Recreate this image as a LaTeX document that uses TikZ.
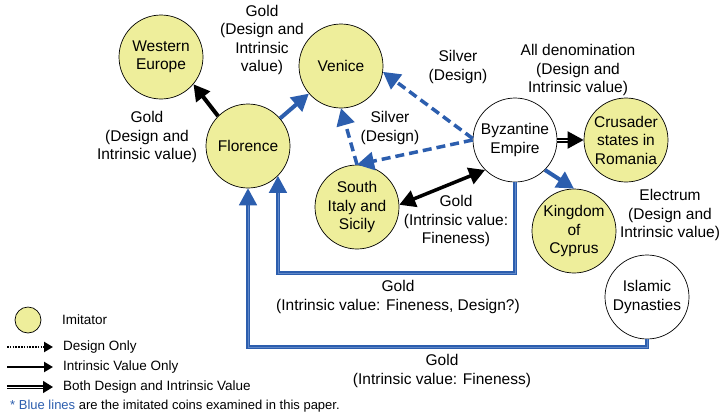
\documentclass[tikz,border=0pt]{standalone}
\usepackage{fontspec}
\setmainfont{Liberation Sans}
\usetikzlibrary{arrows.meta,calc}
\definecolor{cblue}{RGB}{44,94,174}
\definecolor{cblueL}{RGB}{95,135,200}
\definecolor{cyel}{RGB}{238,238,155}
\begin{document}
\begin{tikzpicture}[x=1pt,y=-1pt,
  circ/.style={circle,draw=black,line width=0.7pt,minimum size=84pt,inner sep=0pt,align=center,
    font=\fontsize{15.5}{18.5}\selectfont},
  imit/.style={circ,fill=cyel},
  lbl/.style={align=center,inner sep=0pt,font=\fontsize{15.5}{18.5}\selectfont},
  lgd/.style={anchor=west,inner sep=0pt,font=\fontsize{13.5}{16}\selectfont},
  btip/.style={-{Triangle[length=17pt,width=18pt]}},
  blueA/.style={draw=cblue,line width=4pt,btip},
  blueP/.style={draw=cblue,line width=1.8pt,double=cblueL,double distance=0.6pt,btip},
  blueD/.style={draw=cblue,line width=3.5pt,dash pattern=on 9pt off 5pt,btip},
  blkA/.style={draw=black,line width=4pt,-{Triangle[length=16pt,width=17pt]}},
  blkB/.style={draw=black,line width=3.5pt,{Triangle[length=16pt,width=17pt]}-{Triangle[length=16pt,width=17pt]}},
  blkDbl/.style={draw=black,line width=2pt,double=white,double distance=1pt,-{Triangle[length=16pt,width=17pt]}},
]
\useasboundingbox (0,0) rectangle (725,418);

% circles
\node[imit] (WE) at (161,57) {Western\\Europe};
\node[imit] (V) at (341,66) {Venice};
\node[imit] (F) at (248,146) {Florence};
\node[circ,fill=white] (B) at (515,140) {Byzantine\\Empire};
\node[imit] (C) at (626,140) {Crusader\\states in\\Romania};
\node[imit] (S) at (357,207) {South\\Italy and\\Sicily};
\node[imit] (K) at (574,231) {Kingdom\\of\\Cyprus};
\node[circ,fill=white] (I) at (647,297) {Islamic\\Dynasties};

% labels
\node[lbl] (t1) at (147,137) {Gold\\(Design and\\Intrinsic value)};
\node[lbl] (t2) at (262,40) {Gold\\(Design and\\Intrinsic\\value)};
\node[lbl] (t3) at (458,67) {Silver\\(Design)};
\node[lbl] (t4) at (578,70) {All denomination\\(Design and\\Intrinsic value)};
\node[lbl] (t5) at (390,128) {Silver\\(Design)};
\node[lbl] (t6) at (456,221) {Gold\\(Intrinsic value:\\Fineness)};
\node[lbl] (t7) at (670,215) {Electrum\\(Design and\\Intrinsic value)};
\node[lbl] (t8) at (398,297) {Gold\\(Intrinsic value: Fineness, Design?)};
\node[lbl] (t9) at (442,371) {Gold\\(Intrinsic value: Fineness)};

% connectors
\draw[blkA] (F.135) -- (WE.-40);
\draw[blueA] (F) -- (V);
\draw[blueD] (B.178) -- (V.-8);
\draw[blueD] (B.180) -- (S.north);
\draw[blueD] (S.north) -- (V.south);
\draw[blkB] (S.3) -- (B.225);
\draw[blkDbl] (B.east) -- (C.west);
\draw[blueA] (B.-45) -- (K.north);
\coordinate (k1) at (0,273);
\coordinate (k2) at (0,347);
\draw[blueP] (B.south) -- (B.south |- k1) -| (F.-45);
\draw[blueP] (I.south) -- (I.south |- k2) -| (F.south);

% legend
\node[circle,draw=black,line width=0.7pt,fill=cyel,minimum size=26pt,inner sep=0pt] (LC) at (28,320) {};
\node[lgd] (L0) at (62,320) {Imitator};
\coordinate (a1) at (7,347); \coordinate (b1) at (53,347);
\coordinate (a2) at (7,367); \coordinate (b2) at (53,367);
\coordinate (a3) at (7,387); \coordinate (b3) at (53,387);
\draw[black,line width=2.6pt,dash pattern=on 1.6pt off 1.2pt,-{Triangle[length=9pt,width=10pt]}] (a1) -- (b1);
\draw[black,line width=2.6pt,-{Triangle[length=9pt,width=10pt]}] (a2) -- (b2);
\draw[black,line width=1.5pt,double=white,double distance=0.8pt,-{Triangle[length=10pt,width=12pt]}] (a3) -- (b3);
\node[lgd] (L1) at (63,347) {Design Only};
\node[lgd] (L2) at (63,367) {Intrinsic Value Only};
\node[lgd] (L3) at (63,387) {Both Design and Intrinsic Value};
\node[lgd,font=\fontsize{13}{15}\selectfont] (L4) at (10,406) {\textcolor{cblue}{* Blue lines} are the imitated coins examined in this paper.};
\end{tikzpicture}
\end{document}
